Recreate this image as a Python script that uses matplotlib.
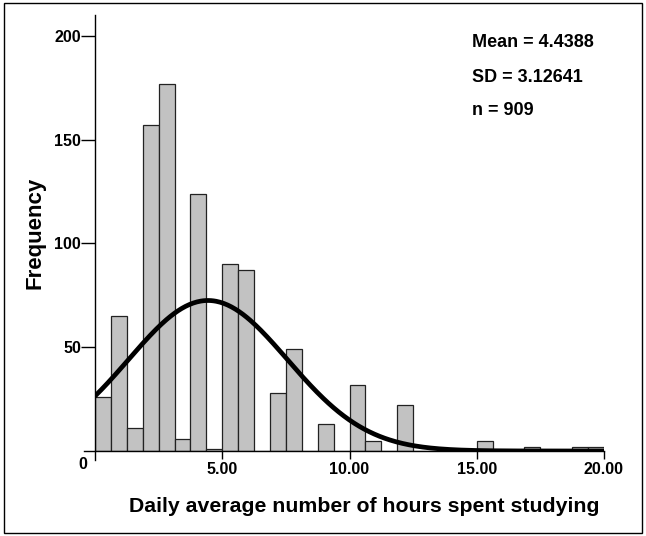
import numpy as np
import matplotlib
matplotlib.use('Agg')
import matplotlib.pyplot as plt
from matplotlib.patches import Rectangle

# --- DATA ---
bin_width = 0.625
bin_edges = np.arange(0, 20 + bin_width / 2, bin_width)  # 32 bins 0..20
counts = [26, 65, 11, 157, 177, 6, 124, 1, 90, 87, 0, 28, 49, 0, 13, 0,
          32, 5, 0, 22, 0, 0, 1, 0, 5, 0, 0, 2, 0, 0, 2, 2]
mean_val = 4.4388
sd_val = 3.12641
n_val = 909
x_ticks = [5, 10, 15, 20]
x_ticklabels = ["5.00", "10.00", "15.00", "20.00"]
y_ticks = [50, 100, 150, 200]

plt.rcParams['font.family'] = ['Liberation Sans', 'DejaVu Sans']
plt.rcParams['font.weight'] = 'bold'

fig = plt.figure(figsize=(6.46, 5.36), dpi=100)
ax = fig.add_axes([95 / 646, (536 - 451) / 536, 509 / 646, (451 - 15) / 536])

# histogram bars
ax.bar(bin_edges[:-1], counts, width=bin_width, align='edge',
       color='#c2c2c2', edgecolor='#222222', linewidth=0.9)

# normal curve from the stated stats
xs = np.linspace(0, 20, 400)
ys = n_val * bin_width / (sd_val * np.sqrt(2 * np.pi)) * np.exp(-0.5 * ((xs - mean_val) / sd_val) ** 2)
ax.plot(xs, ys, color='black', linewidth=3.4, solid_capstyle='round')

ax.set_xlim(0, 20)
ax.set_ylim(0, 210)

# axes lines (SPSS style, slightly overshooting at the corner)
for s in ax.spines.values():
    s.set_visible(False)
ax.plot([-0.45, 20], [0, 0], color='black', linewidth=1.0, clip_on=False)
ax.plot([0, 0], [-4.5, 210], color='black', linewidth=1.0, clip_on=False)

ax.set_yticks(y_ticks)
ax.set_yticklabels([str(v) for v in y_ticks], fontsize=11.5, fontweight='bold')
ax.set_xticks(x_ticks)
ax.set_xticklabels(x_ticklabels, fontsize=11.5, fontweight='bold')
ax.tick_params(axis='y', length=10, width=1, pad=0)
ax.tick_params(axis='x', length=6, width=1, pad=2)
ax.text(-0.3, -3, "0", ha='right', va='top', fontsize=11.5, fontweight='bold')

ax.set_xlabel("Daily average number of hours spent studying", fontsize=15.3, fontweight='bold')
ax.xaxis.set_label_coords(0.528, -0.105)
ax.set_ylabel("Frequency", fontsize=16, fontweight='bold')
ax.yaxis.set_label_coords(-0.098, 0.5)

ax.text(14.8, 196.6, f"Mean = {mean_val}", fontsize=13, fontweight='bold', va='center')
ax.text(14.8, 179.8, f"SD = {sd_val}", fontsize=13, fontweight='bold', va='center')
ax.text(14.8, 163.9, f"n = {n_val}", fontsize=13, fontweight='bold', va='center')

# outer frame
fig.patches.append(Rectangle((0.006, 0.006), 0.988, 0.988, transform=fig.transFigure,
                             fill=False, edgecolor='black', linewidth=1.0))

fig.savefig("out.png", dpi=100)
